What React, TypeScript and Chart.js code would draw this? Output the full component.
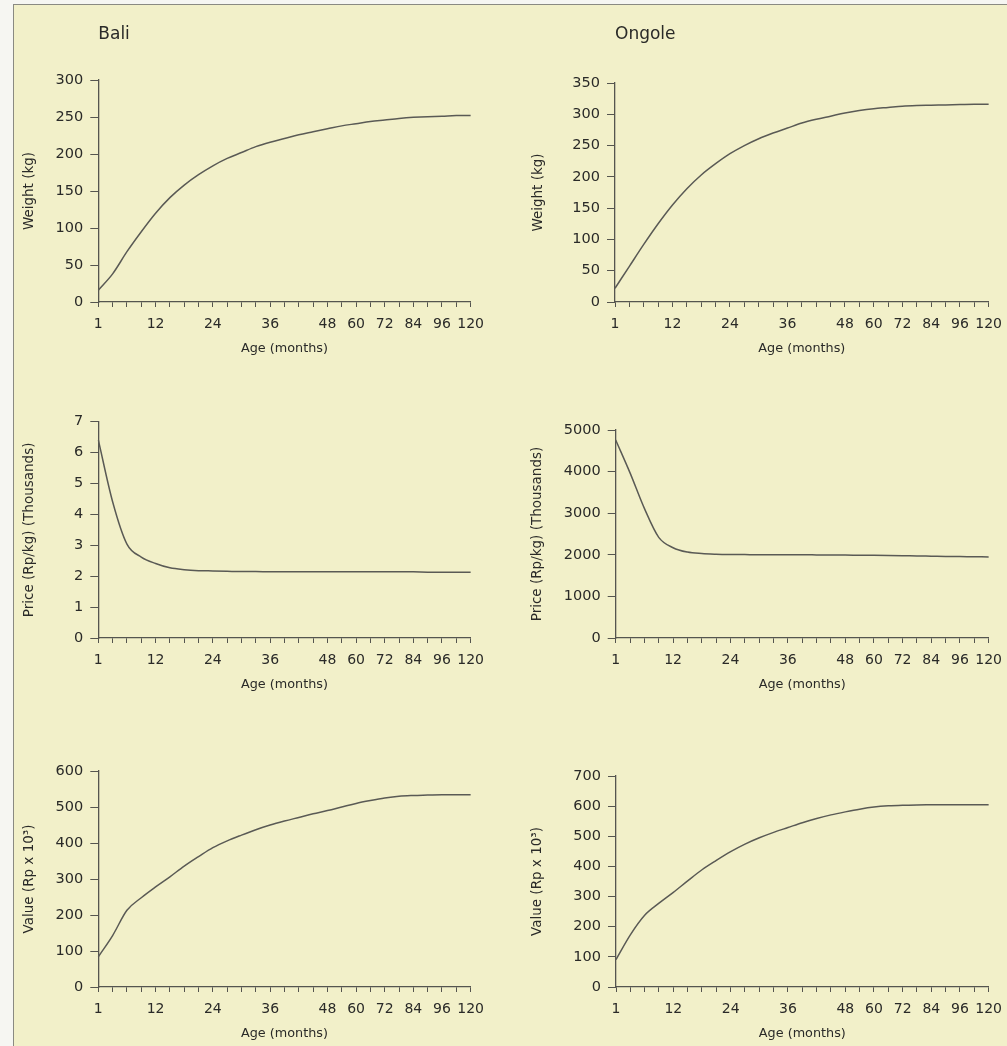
import React, { useEffect, useRef } from "react";
import { Chart, registerables } from "chart.js";

Chart.register(...registerables);

// Ages at which the curves were evaluated (equally spaced on the axis)
const AGES = [1, 3, 6, 9, 12, 15, 18, 21, 24, 27, 30, 33, 36, 39, 42, 45, 48, 54, 60, 66, 72, 78, 84, 90, 96, 108, 120];
const AGE_TICKS = [1, 12, 24, 36, 48, 60, 72, 84, 96, 120];

const BALI_WEIGHT = [16, 38, 68, 95, 120, 141, 158, 172, 184, 194, 202, 210, 216, 221, 226, 230, 234, 238, 241, 244, 246, 248, 249.5, 250.5, 251, 252, 252];
const ONGOLE_WEIGHT = [22, 57, 92, 125, 155, 181, 203, 221, 237, 250, 261, 270, 278, 286, 292, 297, 302, 306, 309, 311, 313, 314, 314.5, 315, 315.5, 316, 316];
const BALI_PRICE = [6.41, 4.41, 3.04, 2.62, 2.41, 2.27, 2.21, 2.18, 2.17, 2.16, 2.15, 2.15, 2.14, 2.14, 2.14, 2.14, 2.14, 2.14, 2.14, 2.14, 2.14, 2.14, 2.14, 2.13, 2.13, 2.13, 2.13];
const ONGOLE_PRICE = [4760, 3970, 3115, 2420, 2170, 2065, 2030, 2015, 2008, 2005, 2002, 2000, 2000, 2000, 1998, 1996, 1994, 1990, 1987, 1983, 1978, 1972, 1967, 1962, 1958, 1954, 1950];
const BALI_VALUE = [84, 143, 213, 248, 278, 306, 336, 362, 387, 406, 422, 437, 450, 461, 471, 481, 490, 500, 510, 518, 525, 530, 532, 533, 534, 534, 534];
const ONGOLE_VALUE = [91, 173, 238, 278, 314, 352, 389, 420, 449, 474, 495, 513, 529, 545, 559, 571, 581, 590, 597, 601, 603, 604, 604.5, 605, 605, 605, 605];

const FONT = "'DejaVu Sans', sans-serif";
const TEXT = "#2a2a28";
const AXIS = "#55554f";
const LINE = "#5a5a55";

type PanelCfg = {
  left: number;
  top: number;
  width: number;
  height: number;
  yWidth: number;
  padTop: number;
  padRight: number;
  title?: string;
  titleGap?: number;
  yTitle: string;
  yTitlePad: number;
  yMax: number;
  yStep: number;
  data: number[];
};

const PANELS: PanelCfg[] = [
  { left: 14, top: 15, width: 479, height: 345, yWidth: 84.3, padTop: 0, padRight: 20, title: "Bali", titleGap: 34.8, yTitle: "Weight (kg)", yTitlePad: 7, yMax: 300, yStep: 50, data: BALI_WEIGHT },
  { left: 514, top: 15, width: 497, height: 345, yWidth: 101, padTop: 0, padRight: 17, title: "Ongole", titleGap: 37.8, yTitle: "Weight (kg)", yTitlePad: 16, yMax: 350, yStep: 50, data: ONGOLE_WEIGHT },
  { left: 14, top: 380, width: 479, height: 315.7, yWidth: 84.3, padTop: 41.7, padRight: 20, yTitle: "Price (Rp/kg) (Thousands)", yTitlePad: 7.5, yMax: 7, yStep: 1, data: BALI_PRICE },
  { left: 514, top: 380, width: 497, height: 315.7, yWidth: 101.7, padTop: 50, padRight: 17, yTitle: "Price (Rp/kg) (Thousands)", yTitlePad: 15.5, yMax: 5000, yStep: 1000, data: ONGOLE_PRICE },
  { left: 14, top: 730, width: 479, height: 314.7, yWidth: 84.3, padTop: 41, padRight: 20, yTitle: "Value (Rp x 10³)", yTitlePad: 7.5, yMax: 600, yStep: 100, data: BALI_VALUE },
  { left: 514, top: 730, width: 497, height: 314.7, yWidth: 102, padTop: 46, padRight: 17, yTitle: "Value (Rp x 10³)", yTitlePad: 15.5, yMax: 700, yStep: 100, data: ONGOLE_VALUE },
];

function Panel({ cfg }: { cfg: PanelCfg }) {
  const ref = useRef<HTMLCanvasElement | null>(null);
  useEffect(() => {
    if (!ref.current) return;
    const chart = new Chart(ref.current, {
      type: "line",
      data: {
        labels: AGES.map(String),
        datasets: [
          {
            data: cfg.data,
            borderColor: LINE,
            borderWidth: 1.5,
            pointRadius: 0,
            fill: false,
            cubicInterpolationMode: "monotone",
          },
        ],
      },
      options: {
        responsive: false,
        animation: false,
        layout: { padding: { top: cfg.padTop, right: cfg.padRight, left: 0, bottom: 0 } },
        plugins: {
          legend: { display: false },
          tooltip: { enabled: false },
          title: cfg.title
            ? {
                display: true,
                text: cfg.title,
                align: "start",
                fullSize: false,
                color: TEXT,
                font: { family: FONT, size: 17, weight: "normal" },
                padding: { top: 9.8, bottom: cfg.titleGap },
              }
            : { display: false },
        },
        scales: {
          x: {
            type: "category",
            offset: false,
            grid: { drawOnChartArea: false, drawTicks: true, tickLength: 5, color: AXIS, lineWidth: 1 },
            border: { display: true, color: AXIS, width: 1.3 },
            ticks: {
              autoSkip: false,
              maxRotation: 0,
              minRotation: 0,
              padding: 9,
              color: TEXT,
              font: { family: FONT, size: 14 },
              callback: (_v: any, i: number) => (AGE_TICKS.includes(AGES[i]) ? String(AGES[i]) : ""),
            },
            title: {
              display: true,
              text: "Age (months)",
              color: TEXT,
              font: { family: FONT, size: 12.8 },
              padding: { top: 0, bottom: 4 },
            },
            afterFit: (s: any) => {
              s.height = 58;
            },
          },
          y: {
            min: 0,
            max: cfg.yMax,
            grid: { drawOnChartArea: false, drawTicks: true, tickLength: 8, color: AXIS, lineWidth: 1 },
            border: { display: true, color: AXIS, width: 1.3 },
            ticks: {
              stepSize: cfg.yStep,
              padding: 7,
              color: TEXT,
              font: { family: FONT, size: 14.5 },
              callback: (v: any) => String(v),
            },
            title: {
              display: true,
              text: cfg.yTitle,
              color: TEXT,
              font: { family: FONT, size: 13.5 },
              padding: { top: cfg.yTitlePad, bottom: 0 },
            },
            afterFit: (s: any) => {
              s.width = cfg.yWidth;
            },
          },
        },
      } as any,
    });
    return () => chart.destroy();
  }, [cfg]);
  return (
    <canvas
      ref={ref}
      width={Math.round(cfg.width)}
      height={Math.round(cfg.height)}
      style={{ position: "absolute", left: cfg.left, top: cfg.top, width: Math.round(cfg.width), height: Math.round(cfg.height) }}
    />
  );
}

export default function App() {
  return (
    <div style={{ position: "absolute", left: 0, top: 0, width: 1007, height: 1046, background: "#f6f6f2", overflow: "hidden" }}>
      <div
        style={{
          position: "absolute",
          left: 13,
          top: 4,
          right: 0,
          bottom: 0,
          background: "#f2f0c9",
          borderLeft: "1.5px solid #8a8a82",
          borderTop: "1.5px solid #8a8a82",
        }}
      />
      {PANELS.map((p, i) => (
        <Panel key={i} cfg={p} />
      ))}
    </div>
  );
}
